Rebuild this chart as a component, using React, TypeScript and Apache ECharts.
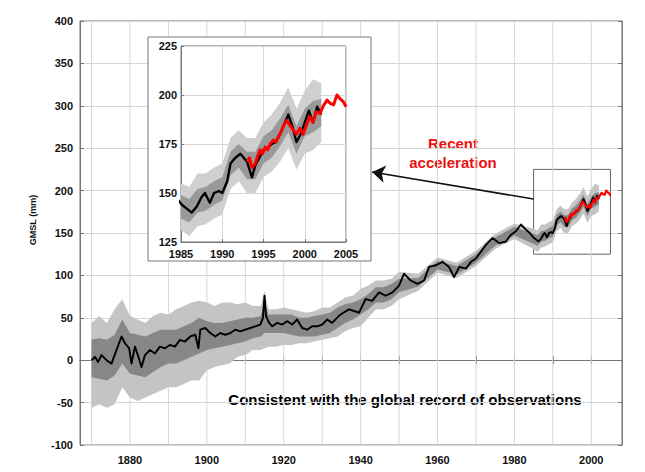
import React, { useEffect, useRef } from "react";
import * as echarts from "echarts";

// Tide-gauge reconstruction (black line), mm
const tgYears = [
  1870.0, 1870.9, 1871.7, 1872.6, 1873.9, 1875.2, 1876.0, 1877.0, 1877.8, 1878.7, 1879.8, 1880.4,
  1881.3, 1882.2, 1883.0, 1883.9, 1885.2, 1886.5, 1887.8, 1889.1, 1890.4, 1891.7, 1893.0, 1894.3,
  1895.7, 1897.0, 1897.8, 1898.3, 1899.6, 1900.9, 1902.2, 1903.5, 1904.8, 1906.1, 1907.4, 1908.7,
  1910.0, 1911.3, 1912.6, 1913.9, 1914.6, 1915.0, 1915.4, 1916.2, 1917.0, 1918.3, 1919.6, 1920.9,
  1922.2, 1923.5, 1924.8, 1926.1, 1927.4, 1928.7, 1930.0, 1931.3, 1932.6, 1934.3, 1935.5, 1937.0,
  1938.3, 1939.6, 1941.3, 1943.0, 1944.8, 1946.5, 1948.3, 1950.0, 1951.3, 1953.0, 1954.8, 1956.5,
  1957.8, 1959.6, 1961.3, 1963.0, 1964.3, 1965.7, 1967.4, 1968.7, 1970.0, 1971.3, 1972.6, 1974.3,
  1976.1, 1977.8, 1979.1, 1980.4, 1981.7, 1983.0, 1984.0, 1985.1, 1985.7, 1986.3, 1986.9, 1987.5,
  1987.9, 1988.5, 1989.0, 1989.6, 1990.0, 1990.6, 1991.0, 1991.6, 1992.2, 1992.6, 1993.0, 1993.6,
  1994.0, 1994.5, 1995.0, 1995.5, 1996.0, 1996.5, 1997.0, 1997.5, 1998.0, 1998.5, 1999.0, 1999.5,
  2000.0, 2000.5, 2001.0, 2001.5, 2002.0,
];
const tgGmsl = [
  0, 4, -2, 6, 0, -4, 6, 18, 28, 20, 14, -4,
  16, 4, -8, 6, 12, 8, 16, 14, 18, 16, 24, 22,
  28, 30, 14, 36, 38, 32, 28, 32, 30, 32, 36, 34,
  36, 38, 40, 42, 50, 76, 52, 44, 40, 44, 42, 46,
  42, 48, 38, 36, 40, 40, 42, 48, 44, 52, 56, 60,
  58, 56, 72, 70, 80, 76, 80, 88, 102, 94, 90, 94,
  110, 112, 116, 110, 98, 110, 108, 116, 120, 128, 136, 144,
  138, 140, 148, 152, 160, 154, 150, 144, 142, 140, 143, 148,
  150, 145, 150, 151, 150, 156, 165, 168, 170, 168, 166, 158,
  164, 168, 172, 173, 175, 176, 180, 185, 190, 184, 176, 180,
  186, 192, 186, 194, 190,
];

// Satellite altimetry (red line), mm
const altYears = [
  1993.0, 1993.3, 1993.6, 1994.0, 1994.3, 1994.6, 1994.9, 1995.2, 1995.5, 1995.8, 1996.2, 1996.5,
  1996.8, 1997.1, 1997.4, 1997.8, 1998.2, 1998.6, 1999.0, 1999.4, 1999.8, 2000.2, 2000.6, 2001.0,
  2001.4, 2001.85, 2002.3, 2002.7, 2003.1, 2003.5, 2003.9, 2004.3, 2004.7, 2005.0,
];
const altGmsl = [
  166, 168, 163, 165, 169, 172, 170, 173.5, 172, 175, 177, 176,
  178.7, 181, 184, 187, 184.6, 182, 180, 183, 180, 184.6, 189, 186,
  191.4, 190.6, 194.8, 197.4, 195.7, 195, 200, 198, 196.5, 194,
];

// Uncertainty envelopes
const bandYears = [
  1870, 1872, 1874, 1876, 1878, 1880, 1882, 1884, 1886, 1888, 1890, 1892, 1894, 1896, 1898, 1900,
  1902, 1904, 1906, 1908, 1910, 1912, 1914, 1915, 1916, 1918, 1920, 1922, 1924, 1926, 1928, 1930,
  1932, 1934, 1936, 1938, 1940, 1942, 1944, 1946, 1948, 1950, 1955, 1960, 1965, 1970, 1975, 1980,
  1985, 1986, 1987, 1988, 1989, 1990, 1991, 1992, 1993, 1994, 1995, 1996, 1997, 1998, 1999, 2000,
  2001, 2002,
];
const outerHi = [
  44, 52, 44, 60, 72, 52, 48, 44, 52, 56, 54, 60, 64, 68, 70, 68,
  64, 68, 68, 66, 68, 64, 64, 82, 60, 60, 62, 60, 58, 56, 58, 62,
  62, 68, 74, 76, 84, 88, 94, 94, 96, 104, 102, 121, 115, 129, 149, 161,
  155, 153, 160, 160, 163, 165, 178, 182, 178, 178, 186, 190, 196, 204, 193, 202,
  208, 206,
];
const outerLo = [
  -56, -52, -56, -52, -32, -44, -48, -44, -40, -36, -32, -32, -28, -24, -24, -12,
  -8, -6, -4, 4, 6, 12, 12, 14, 16, 16, 18, 18, 20, 20, 22, 24,
  26, 28, 34, 38, 40, 50, 60, 60, 64, 72, 82, 103, 97, 111, 131, 143,
  131, 128, 133, 134, 137, 139, 152, 156, 150, 150, 158, 161, 166, 173, 162, 170,
  172, 176,
];
const innerHi = [
  24, 26, 24, 30, 48, 32, 30, 28, 32, 36, 36, 36, 40, 44, 50, 46,
  44, 44, 46, 48, 50, 50, 52, 70, 54, 54, 54, 54, 50, 50, 52, 54,
  56, 62, 66, 68, 72, 78, 86, 86, 90, 96, 97, 117, 111, 125, 145, 157,
  149, 147, 152, 153, 156, 158, 171, 175, 171, 171, 179, 182, 188, 195, 184, 193,
  197, 198,
];
const innerLo = [
  -20, -22, -24, -18, -4, -16, -18, -20, -14, -8, -4, -4, 0, 4, 8, 12,
  14, 16, 18, 20, 22, 26, 28, 32, 32, 32, 32, 30, 28, 28, 28, 30,
  32, 38, 44, 48, 54, 60, 68, 68, 72, 80, 87, 107, 101, 115, 135, 147,
  137, 135, 140, 141, 144, 146, 159, 163, 157, 157, 165, 168, 174, 181, 170, 179,
  181, 184,
];

// Axis ticks / labels
const gridYears = [1870, 1880, 1890, 1900, 1910, 1920, 1930, 1940, 1950, 1960, 1970, 1980, 1990, 2000];
const xLabelYears = [1880, 1900, 1920, 1940, 1960, 1980, 2000];
const zoomBox = { x0: 1985, x1: 2005, y0: 125, y1: 225 };
const arrowFrom = [1985, 190];
const arrowTo = [1943, 222];

const FONT = "'Liberation Sans', Arial, Helvetica, sans-serif";
const GRID_COLOR = "#d6d6d6";

function pairs(xs: number[], ys: number[]) {
  return xs.map((x, i) => [x, ys[i]]);
}

function band(lo: number[], hi: number[], color: string, xi: number, yi: number, z: number) {
  return {
    type: "custom",
    xAxisIndex: xi,
    yAxisIndex: yi,
    silent: true,
    z,
    data: bandYears.map((x, i) => [x, lo[i], hi[i]]),
    encode: { x: 0, y: [1, 2] },
    renderItem: (params: any, api: any) => {
      if (params.dataIndex !== 0) return null;
      const upper = bandYears.map((x, i) => api.coord([x, hi[i]]));
      const lower = bandYears.map((x, i) => api.coord([x, lo[i]])).reverse();
      const cs = params.coordSys;
      return {
        type: "polygon",
        shape: { points: upper.concat(lower) },
        style: { fill: color, stroke: "none" },
        clipPath: { type: "rect", shape: { x: cs.x, y: cs.y, width: cs.width, height: cs.height } },
      };
    },
  };
}

// vertical grid lines at the decade ticks, through the axis scale
function decadeGrid(xi: number, yi: number, z: number) {
  return {
    type: "custom",
    xAxisIndex: xi,
    yAxisIndex: yi,
    silent: true,
    z,
    data: gridYears.map((x) => [x, 0]),
    renderItem: (params: any, api: any) => {
      const cs = params.coordSys;
      const px = api.coord([api.value(0), 0])[0];
      return {
        type: "line",
        shape: { x1: px, y1: cs.y, x2: px, y2: cs.y + cs.height },
        style: { stroke: GRID_COLOR, lineWidth: 1 },
      };
    },
  };
}

export default function App() {
  const ref = useRef<HTMLDivElement>(null);

  useEffect(() => {
    const chart = echarts.init(ref.current!, null, { renderer: "svg" });
    const labelStyle = { color: "#111", fontFamily: FONT, fontWeight: "bold" as const };
    const option: any = {
      animation: false,
      backgroundColor: "#fff",
      grid: [
        { left: 80, top: 21, width: 542, height: 424, show: true, borderColor: "#777", borderWidth: 1, backgroundColor: "transparent" },
        { left: 181, top: 46, width: 165, height: 196, show: true, borderColor: "#777", borderWidth: 1, backgroundColor: "transparent", z: 3 },
      ],
      xAxis: [
        {
          type: "value", gridIndex: 0, min: 1867, max: 2008,
          axisLine: { show: true, lineStyle: { color: "#777" } },
          axisTick: { show: true, inside: true, length: 4, customValues: gridYears, lineStyle: { color: "#777" } },
          axisLabel: { ...labelStyle, fontSize: 11, margin: 9, customValues: xLabelYears, formatter: (v: number) => String(v) },
          splitLine: { show: false },
        },
        {
          type: "value", gridIndex: 1, min: 1985, max: 2005, interval: 5, z: 3,
          axisLine: { show: true, lineStyle: { color: "#777" } },
          axisTick: { show: true, inside: true, length: 3, lineStyle: { color: "#777" } },
          axisLabel: { ...labelStyle, fontSize: 11, margin: 6, showMinLabel: true, showMaxLabel: true, formatter: (v: number) => String(v) },
          splitLine: { show: true, lineStyle: { color: GRID_COLOR } },
        },
        {
          type: "value", gridIndex: 0, position: "top", min: 1867, max: 2008,
          axisLine: { show: true, lineStyle: { color: "#777" } },
          axisTick: { show: true, inside: true, length: 4, customValues: gridYears, lineStyle: { color: "#777" } },
          axisLabel: { show: false },
          splitLine: { show: false },
        },
      ],
      yAxis: [
        {
          type: "value", gridIndex: 0, min: -100, max: 400, interval: 50,
          axisLine: { show: true, lineStyle: { color: "#777" } },
          axisTick: { show: true, inside: true, length: 4, lineStyle: { color: "#777" } },
          axisLabel: { ...labelStyle, fontSize: 11, margin: 7 },
          splitLine: { show: true, lineStyle: { color: GRID_COLOR } },
        },
        {
          type: "value", gridIndex: 1, min: 125, max: 225, interval: 25, z: 3,
          axisLine: { show: true, lineStyle: { color: "#777" } },
          axisTick: { show: true, inside: true, length: 3, lineStyle: { color: "#777" } },
          axisLabel: { ...labelStyle, fontSize: 11, margin: 4, showMinLabel: true, showMaxLabel: true },
          splitLine: { show: true, lineStyle: { color: GRID_COLOR } },
        },
        {
          type: "value", gridIndex: 0, position: "right", min: -100, max: 400, interval: 50,
          axisLine: { show: true, lineStyle: { color: "#777" } },
          axisTick: { show: true, inside: true, length: 4, lineStyle: { color: "#777" } },
          axisLabel: { show: false },
          splitLine: { show: false },
        },
      ],
      series: [
        decadeGrid(0, 0, 1),
        band(outerLo, outerHi, "#c4c4c4", 0, 0, 2),
        band(innerLo, innerHi, "#878787", 0, 0, 2),
        {
          type: "line", xAxisIndex: 0, yAxisIndex: 0, data: pairs(tgYears, tgGmsl), symbol: "none", z: 2, silent: true,
          lineStyle: { color: "#000", width: 1.9, join: "round" },
        },
        {
          type: "line", xAxisIndex: 0, yAxisIndex: 0, data: pairs(altYears, altGmsl), symbol: "none", z: 2, silent: true,
          lineStyle: { color: "#ff0000", width: 2.2, join: "round" },
          markArea: {
            silent: true,
            itemStyle: { color: "rgba(0,0,0,0)", borderColor: "#666", borderWidth: 1 },
            data: [[{ coord: [zoomBox.x0, zoomBox.y0] }, { coord: [zoomBox.x1, zoomBox.y1] }]],
          },
          markLine: {
            silent: true, symbol: ["none", "arrow"], symbolSize: 13, label: { show: false },
            lineStyle: { color: "#111", width: 1.5, type: "solid" },
            emphasis: { disabled: true },
            data: [[{ coord: arrowFrom }, { coord: arrowTo }]],
          },
        },
        band(outerLo, outerHi, "#cfcfcf", 1, 1, 4),
        band(innerLo, innerHi, "#999999", 1, 1, 4),
        {
          type: "line", xAxisIndex: 1, yAxisIndex: 1, data: pairs(tgYears, tgGmsl), symbol: "none", z: 4, silent: true,
          lineStyle: { color: "#000", width: 2.4, join: "round" },
        },
        {
          type: "line", xAxisIndex: 1, yAxisIndex: 1, data: pairs(altYears, altGmsl), symbol: "none", z: 4, silent: true,
          lineStyle: { color: "#ff0000", width: 3, join: "round" },
        },
      ],
      graphic: [
        {
          type: "rect", z: 2.5, silent: true,
          shape: { x: 148, y: 37, width: 223, height: 224 },
          style: { fill: "#fff", stroke: "#777", lineWidth: 1 },
        },
        {
          type: "text", x: 33, y: 220, rotation: Math.PI / 2, silent: true,
          style: { text: "GMSL (mm)", fill: "#111", font: `bold 9px ${FONT}`, align: "center", verticalAlign: "middle" },
        },
        {
          type: "text", x: 453, y: 153, silent: true,
          style: { text: "Recent\nacceleration", fill: "#ee1111", font: `bold 15px ${FONT}`, lineHeight: 19, align: "center", verticalAlign: "middle" },
        },
        {
          type: "text", x: 405, y: 399, silent: true,
          style: { text: "Consistent with the global record of observations", fill: "#000", font: `bold 15px ${FONT}`, align: "center", verticalAlign: "middle" },
        },
      ],
    };
    chart.setOption(option);
    return () => chart.dispose();
  }, []);

  return <div ref={ref} style={{ position: "fixed", left: 0, top: 0, width: 645, height: 472 }} />;
}
